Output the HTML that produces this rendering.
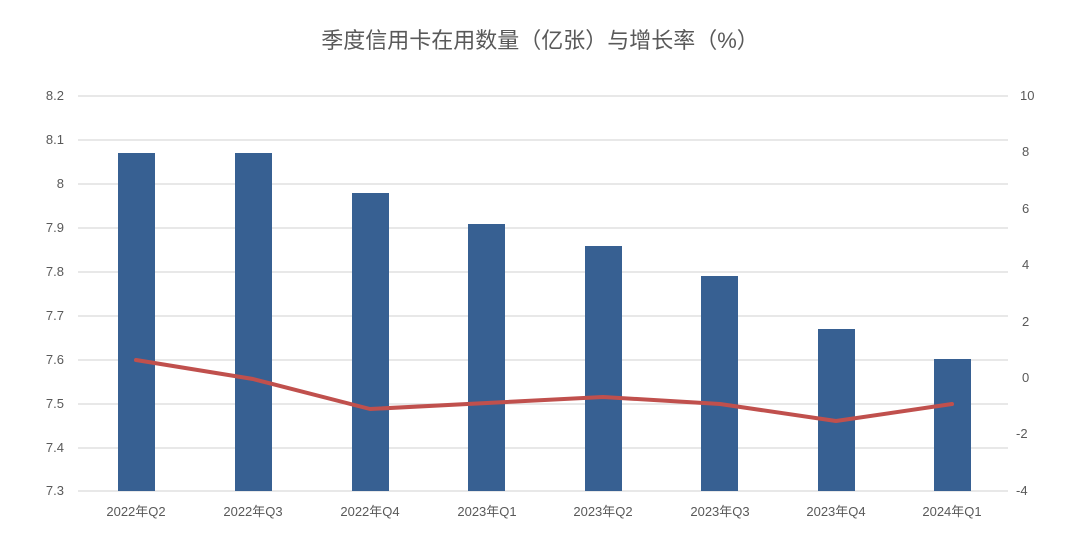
<!DOCTYPE html><html><head><meta charset="utf-8"><style>body{margin:0;background:#fff}svg text{font-family:"Liberation Sans","Noto Sans CJK SC",sans-serif;fill:#595959}</style></head><body>
<svg width="1080" height="545" xmlns="http://www.w3.org/2000/svg">
<rect width="1080" height="545" fill="#fff"/>
<text x="540" y="48" font-size="22" text-anchor="middle" fill="#595959">季度信用卡在用数量（亿张）与增长率（%）</text>
<g stroke="#d9d9d9" stroke-width="1.3">
<line x1="78" x2="1008" y1="96" y2="96"/><line x1="78" x2="1008" y1="140" y2="140"/><line x1="78" x2="1008" y1="184" y2="184"/><line x1="78" x2="1008" y1="228" y2="228"/><line x1="78" x2="1008" y1="272" y2="272"/><line x1="78" x2="1008" y1="316" y2="316"/><line x1="78" x2="1008" y1="360" y2="360"/><line x1="78" x2="1008" y1="404" y2="404"/><line x1="78" x2="1008" y1="448" y2="448"/><line x1="78" x2="1008" y1="491" y2="491"/>
</g>
<g font-size="13" text-anchor="end">
<text x="64" y="100">8.2</text><text x="64" y="144">8.1</text><text x="64" y="188">8</text><text x="64" y="232">7.9</text><text x="64" y="276">7.8</text><text x="64" y="320">7.7</text><text x="64" y="364">7.6</text><text x="64" y="408">7.5</text><text x="64" y="452">7.4</text><text x="64" y="495">7.3</text>
</g>
<g font-size="13" text-anchor="start">
<text x="1020" y="100">10</text><text x="1022" y="156">8</text><text x="1022" y="213">6</text><text x="1022" y="269">4</text><text x="1022" y="326">2</text><text x="1022" y="382">0</text><text x="1016" y="438">-2</text><text x="1016" y="495">-4</text>
</g>
<g fill="#376092">
<rect x="118" y="153" width="37" height="338"/><rect x="235" y="153" width="37" height="338"/><rect x="352" y="193" width="37" height="298"/><rect x="468" y="224" width="37" height="267"/><rect x="585" y="246" width="37" height="245"/><rect x="701" y="276" width="37" height="215"/><rect x="818" y="329" width="37" height="162"/><rect x="934" y="359" width="37" height="132"/>
</g>
<polyline fill="none" stroke="#c0504d" stroke-width="4" stroke-linejoin="round" stroke-linecap="round" points="136,360 253,379 370,409 487,403 603,397 720,404 836,421 952,404"/>
<g font-size="13" text-anchor="middle">
<text x="136" y="516">2022年Q2</text><text x="253" y="516">2022年Q3</text><text x="370" y="516">2022年Q4</text><text x="487" y="516">2023年Q1</text><text x="603" y="516">2023年Q2</text><text x="720" y="516">2023年Q3</text><text x="836" y="516">2023年Q4</text><text x="952" y="516">2024年Q1</text>
</g>
</svg></body></html>
